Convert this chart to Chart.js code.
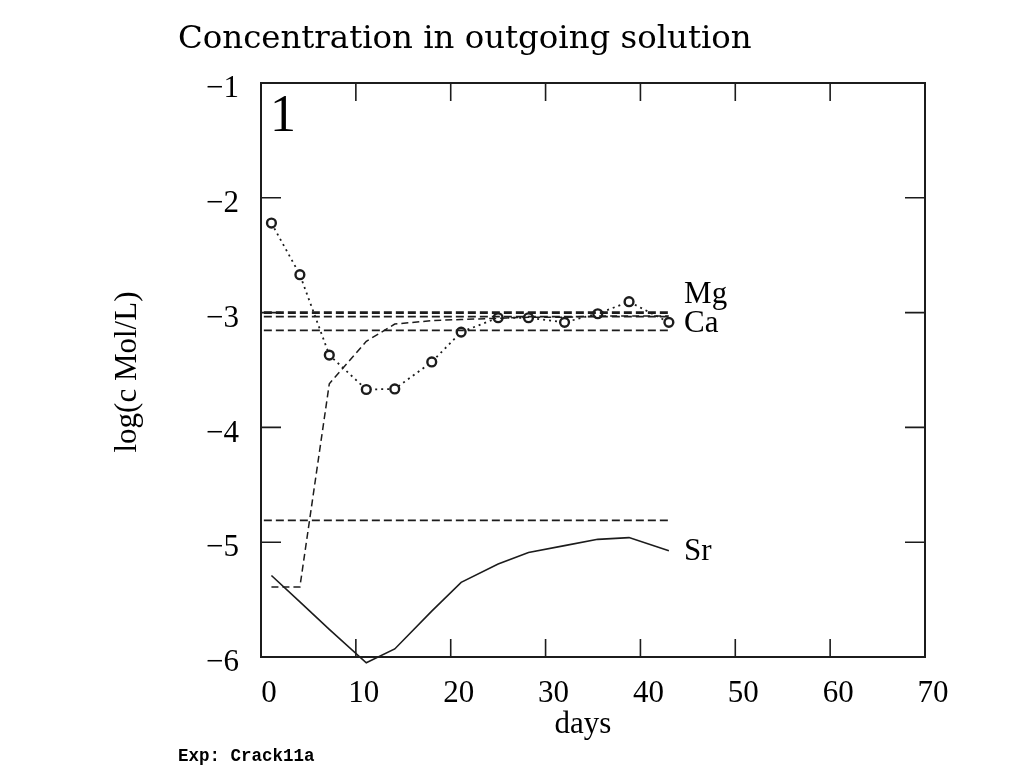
<!DOCTYPE html>
<html>
<head>
<meta charset="utf-8">
<script src="https://cdn.jsdelivr.net/npm/chart.js@4.4.1/dist/chart.umd.min.js"></script>
<style>
html,body{margin:0;padding:0;background:#fff;}
#wrap{width:1010px;height:766px;position:relative;}
</style>
</head>
<body>
<div id="wrap"><canvas id="c" width="1010" height="766"></canvas></div>
<script>
// ---- data ----
const days = [1.1, 4.1, 7.2, 11.1, 14.1, 18, 21.1, 25, 28.2, 32, 35.5, 38.8, 43];
const caOut = [-2.22, -2.67, -3.37, -3.67, -3.665, -3.43, -3.17, -3.045, -3.045, -3.085, -3.01, -2.905, -3.085];
const mgOut = [-5.39, -5.39, -3.62, -3.25, -3.10, -3.07, -3.06, -3.05, -3.04, -3.04, -3.03, -3.03, -3.03];
const srOut = [-5.29, -5.52, -5.76, -6.05, -5.93, -5.6, -5.35, -5.19, -5.09, -5.03, -4.975, -4.96, -5.075];
const inputLevels = [-3.0, -3.035, -3.155, -4.81];
const inputSpan = [0.3, 43];
const xTicks = [0, 10, 20, 30, 40, 50, 60, 70];
const yTicks = [-1, -2, -3, -4, -5, -6];
const seriesLabels = ['Mg', 'Ca', 'Sr'];
const labelDay = [44.6, 44.6, 44.6];
const labelLevel = [-2.92, -3.17, -5.152];
const titleText = 'Concentration in outgoing solution';
const xTitle = 'days';
const yTitle = 'log(c Mol/L)';
const panelText = '1';
const footText = 'Exp: Crack11a';

const ink = '#1c1c1c';
const pts = (xs, ys) => xs.map((x, i) => ({x: x, y: ys[i]}));

const datasets = [];
inputLevels.forEach((lv, i) => {
  datasets.push({
    data: inputSpan.map(d => ({x: d, y: lv})),
    borderColor: ink, borderWidth: i === 0 ? 2.6 : 1.6, borderDash: [8, 4],
    pointRadius: 0, fill: false, tension: 0
  });
});
datasets.push({
  data: pts(days, mgOut), borderColor: ink, borderWidth: 1.5, borderDash: [7, 4],
  pointRadius: 0, fill: false, tension: 0
});
datasets.push({
  data: pts(days, caOut), borderColor: ink, borderWidth: 1.8, borderDash: [2, 4],
  pointRadius: 4.4, pointStyle: 'circle', pointBorderWidth: 2.4, pointBorderColor: ink,
  pointBackgroundColor: '#fff', fill: false, tension: 0
});
datasets.push({
  data: pts(days, srOut), borderColor: ink, borderWidth: 1.6,
  pointRadius: 0, fill: false, tension: 0, clip: false
});

const decor = {
  id: 'decor',
  afterDraw(chart) {
    const ctx = chart.ctx, a = chart.chartArea;
    const xs = chart.scales.x, ys = chart.scales.y;
    ctx.save();
    // frame
    ctx.strokeStyle = ink; ctx.lineWidth = 2;
    ctx.strokeRect(a.left, a.top, a.right - a.left, a.bottom - a.top);
    // inward ticks
    ctx.lineWidth = 1.6;
    const L = 18;
    xTicks.forEach(v => {
      const px = xs.getPixelForValue(v);
      ctx.beginPath();
      ctx.moveTo(px, a.bottom); ctx.lineTo(px, a.bottom - L);
      ctx.moveTo(px, a.top); ctx.lineTo(px, a.top + L);
      ctx.stroke();
    });
    yTicks.forEach(v => {
      const py = ys.getPixelForValue(v);
      ctx.beginPath();
      ctx.moveTo(a.left, py); ctx.lineTo(a.left + L + 2, py);
      ctx.moveTo(a.right, py); ctx.lineTo(a.right - L - 2, py);
      ctx.stroke();
    });
    ctx.fillStyle = '#000';
    // title
    ctx.font = '32.4px "DejaVu Serif"';
    ctx.textAlign = 'left'; ctx.textBaseline = 'alphabetic';
    ctx.fillText(titleText, 178, 48);
    // panel number
    ctx.font = '52px "Liberation Serif"';
    ctx.fillText(panelText, a.left + 9, a.top + 48);
    // series labels
    ctx.font = '31px "Liberation Serif"';
    seriesLabels.forEach((t, i) => {
      ctx.fillText(t, xs.getPixelForValue(labelDay[i]), ys.getPixelForValue(labelLevel[i]));
    });
    // x title
    ctx.textAlign = 'center';
    ctx.fillText(xTitle, 583, 733);
    // y title
    ctx.save();
    ctx.translate(136, 372);
    ctx.rotate(-Math.PI / 2);
    ctx.textAlign = 'center'; ctx.textBaseline = 'alphabetic';
    ctx.fillText(yTitle, 0, 0);
    ctx.restore();
    // footer
    ctx.font = 'bold 17.5px "Liberation Mono"';
    ctx.textAlign = 'left';
    ctx.fillText(footText, 178, 761);
    ctx.restore();
  }
};

new Chart(document.getElementById('c'), {
  type: 'line',
  data: { datasets: datasets },
  options: {
    responsive: false, animation: false,
    layout: { padding: { top: 83, right: 85, left: 0, bottom: 0 } },
    plugins: { legend: { display: false }, tooltip: { enabled: false } },
    scales: {
      x: {
        type: 'linear', min: 0, max: 70,
        afterBuildTicks: s => { s.ticks = xTicks.map(v => ({value: v})); },
        afterFit: s => { s.height = 109; },
        grid: { display: false, drawTicks: false },
        border: { display: false },
        ticks: { font: { family: 'Liberation Serif', size: 31 }, color: '#000', padding: 18, labelOffset: 8, maxRotation: 0 }
      },
      y: {
        type: 'linear', min: -6, max: -1,
        afterBuildTicks: s => { s.ticks = yTicks.map(v => ({value: v})); },
        afterFit: s => { s.width = 261; },
        grid: { display: false, drawTicks: false },
        border: { display: false },
        ticks: { font: { family: 'Liberation Serif', size: 31 }, color: '#000', padding: 22, labelOffset: 6,
          callback: v => String(v).replace('-', '\u2212') }
      }
    }
  },
  plugins: [decor]
});
</script>
</body>
</html>
